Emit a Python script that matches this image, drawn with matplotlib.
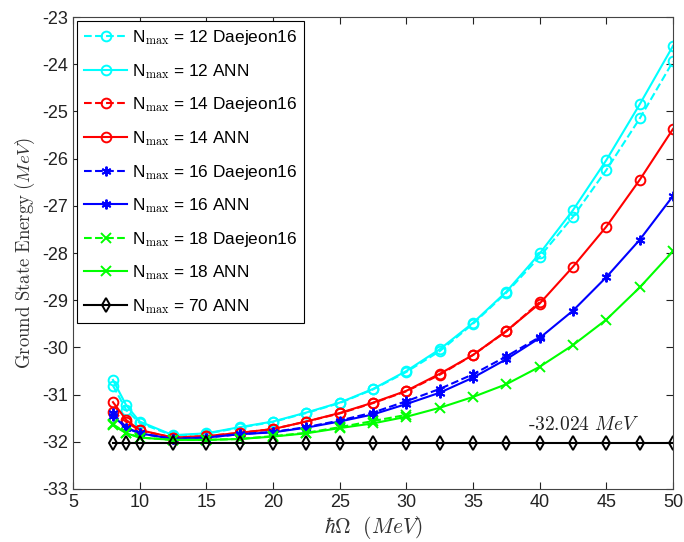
import matplotlib
matplotlib.use("Agg")
import matplotlib.pyplot as plt

plt.rcParams['font.family'] = ['Liberation Sans', 'DejaVu Sans']
plt.rcParams['mathtext.fontset'] = 'cm'
plt.rcParams['axes.unicode_minus'] = False

hw = [8, 9, 10, 12.5, 15, 17.5, 20, 22.5, 25, 27.5, 30, 32.5, 35, 37.5, 40, 42.5, 45, 47.5, 50]

n12_daejeon = [-30.81, -31.33, -31.60, -31.87, -31.83, -31.70, -31.58, -31.39, -31.18, -30.89, -30.52,
               -30.08, -29.50, -28.84, -28.08, -27.23, -26.24, -25.15, -23.94]
n12_ann = [-30.69, -31.23, -31.57, -31.86, -31.82, -31.69, -31.57, -31.38, -31.17, -30.88, -30.50,
           -30.04, -29.48, -28.82, -28.01, -27.09, -26.03, -24.85, -23.61]

n14_daejeon = [-31.36, -31.58, -31.76, -31.91, -31.88, -31.81, -31.73, -31.57, -31.40, -31.18, -30.93,
               -30.58, -30.16, -29.66, -29.04]
n14_ann = [-31.16, -31.54, -31.75, -31.91, -31.88, -31.81, -31.73, -31.57, -31.39, -31.17, -30.92,
           -30.56, -30.16, -29.65, -29.07, -28.29, -27.44, -26.45, -25.37]

n16_daejeon = [-31.40, -31.70, -31.82, -31.94, -31.91, -31.84, -31.79, -31.69, -31.55, -31.38, -31.14,
               -30.88, -30.57, -30.19, -29.78]
n16_ann = [-31.45, -31.71, -31.82, -31.94, -31.91, -31.84, -31.80, -31.70, -31.57, -31.42, -31.20,
           -30.96, -30.64, -30.25, -29.80, -29.22, -28.51, -27.72, -26.79]

n18_daejeon = [-31.63, -31.81, -31.91, -31.96, -31.96, -31.94, -31.88, -31.81, -31.69, -31.56, -31.43]
n18_ann = [-31.65, -31.82, -31.91, -31.96, -31.96, -31.94, -31.89, -31.82, -31.71, -31.61, -31.47,
           -31.28, -31.05, -30.78, -30.41, -29.95, -29.41, -28.73, -27.96]

n70_ann = [-32.024] * len(hw)

labels = [r"N$_{\mathrm{max}}$ = 12 Daejeon16", r"N$_{\mathrm{max}}$ = 12 ANN",
          r"N$_{\mathrm{max}}$ = 14 Daejeon16", r"N$_{\mathrm{max}}$ = 14 ANN",
          r"N$_{\mathrm{max}}$ = 16 Daejeon16", r"N$_{\mathrm{max}}$ = 16 ANN",
          r"N$_{\mathrm{max}}$ = 18 Daejeon16", r"N$_{\mathrm{max}}$ = 18 ANN",
          r"N$_{\mathrm{max}}$ = 70 ANN"]

fig = plt.figure(figsize=(6.84, 5.42), dpi=100)
ax = fig.add_axes([0.1067, 0.0978, 0.8773, 0.8708])

ast = (6, 2, 0)
lw = 1.5
ms = 7
series = [
    (n12_daejeon, 'cyan', '--', 'o'),
    (n12_ann, 'cyan', '-', 'o'),
    (n14_daejeon, 'red', '--', 'o'),
    (n14_ann, 'red', '-', 'o'),
    (n16_daejeon, 'blue', '--', ast),
    (n16_ann, 'blue', '-', ast),
    (n18_daejeon, '#00ff00', '--', 'x'),
    (n18_ann, '#00ff00', '-', 'x'),
    (n70_ann, 'black', '-', 'd'),
]
for (vals, c, ls, mk), lab in zip(series, labels):
    ax.plot(hw[:len(vals)], vals, color=c, ls=ls, marker=mk, lw=lw, ms=ms,
            mfc='none', mec=c, mew=1.4, label=lab)

ax.set_xlim(5, 50)
ax.set_ylim(-33, -23)
ax.set_xticks(range(5, 51, 5))
ax.set_yticks(range(-33, -22, 1))
ax.tick_params(direction='in', length=5, labelsize=13, colors='#222222', top=True, right=True)
for s in ax.spines.values():
    s.set_color('#444444')
    s.set_linewidth(0.8)

ax.set_xlabel(r"$\hbar\Omega\ \ (MeV)$", fontsize=15.5, color='#333333', labelpad=2)
ax.set_ylabel(r"$\mathrm{Ground\ State\ Energy}$ $(MeV)$", fontsize=13.5, color='#333333')
ax.text(43.3, -31.64, r"$\mathrm{\text{-}32.024}\ MeV$", fontsize=14, ha='center', va='center',
        color='#222222')

leg = ax.legend(loc='upper left', fontsize=12.4, handlelength=2.5, handletextpad=0.3,
                labelspacing=0.85, borderpad=0.4, fancybox=False, framealpha=1,
                edgecolor='black', borderaxespad=0.25)
leg.get_frame().set_linewidth(0.8)

fig.savefig("out.png", dpi=100)
